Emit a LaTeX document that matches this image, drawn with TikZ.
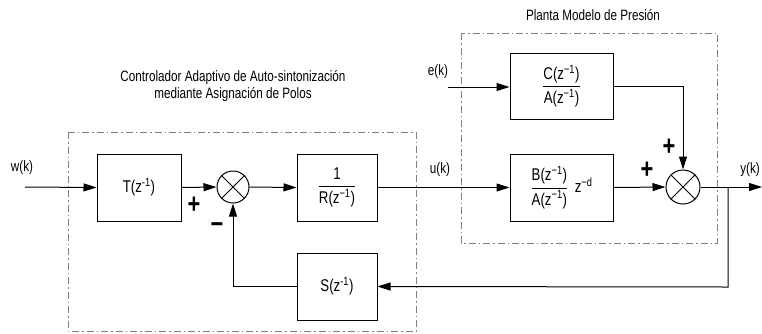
\documentclass[tikz,border=0pt]{standalone}
\usepackage{amsmath}
\usepackage{fontspec}
\setmainfont{Liberation Sans}[FakeStretch=0.78]
\usetikzlibrary{arrows.meta}
\tikzset{
  blk/.style={draw, line width=1pt, minimum width=80pt, minimum height=67pt, inner sep=0pt, font=\fontsize{17}{19}\selectfont},
  sumj/.style={draw, circle, line width=1pt, minimum size=32pt, inner sep=0pt},
  sig/.style={line width=1pt, -{Triangle[length=13pt,width=8pt]}},
  wire/.style={line width=1pt},
  grp/.style={draw=gray, line width=0.8pt, dash pattern=on 7pt off 3pt on 1.5pt off 3pt},
  lbl/.style={font=\fontsize{15}{16}\selectfont, inner sep=0pt},
  sgn/.style={font=\fontsize{28}{28}\selectfont\bfseries, inner sep=0pt}
}
\newcommand{\zi}{\textsuperscript{−1}}
\begin{document}
\begin{tikzpicture}[x=1pt,y=-1pt]
\useasboundingbox (0,0) rectangle (762,333);
\clip (0,0) rectangle (762,333);
% groups
\draw[grp] (68,132) rectangle (416,331);
\draw[grp] (461,33) rectangle (717,243);
\node[lbl, align=center] (ctitle) at (233,86) {Controlador Adaptivo de Auto-sintonización\\[1pt]mediante Asignación de Polos};
\node[lbl] (ptitle) at (593,15) {Planta Modelo de Presión};
% blocks
\node[blk, minimum width=84pt] (T) at (139,187.5) {T(z\textsuperscript{-1})};
\node[sumj] (s1) at (233,187) {};
\draw[wire] (s1.north west) -- (s1.south east) (s1.north east) -- (s1.south west);
\node[blk] (R) at (337,187.5) {$\dfrac{\text{1}}{\text{R(z\zi)}}$};
\node[blk] (S) at (337,286.5) {S(z\textsuperscript{-1})};
\node[blk, minimum width=103pt, minimum height=66pt] (CA) at (561.5,86) {$\dfrac{\text{C(z\zi)}}{\text{A(z\zi)}}$};
\node[blk, minimum width=103pt] (BA) at (561.5,187.5) {$\dfrac{\text{B(z\zi)}}{\text{A(z\zi)}}$\ \,z\textsuperscript{−d}};
\node[sumj, minimum size=34pt] (s2) at (683,187) {};
\draw[wire] (s2.north west) -- (s2.south east) (s2.north east) -- (s2.south west);
% coordinates
\coordinate (win) at (25,187);
\coordinate (ein) at (448,87);
\coordinate (yout) at (762,187);
\coordinate (br) at (728,187);
\coordinate (brd) at (728,287);
% signals
\draw[sig] (win) -- (T.west);
\draw[sig] (T.east) -- (s1.west);
\draw[sig] (s1.east) -- (R.west);
\draw[sig] (R.east) -- (BA.west);
\draw[sig] (ein) -- (ein -| CA.west);
\draw[sig] (BA.east) -- (s2.west);
\draw[sig] (CA.east) -| (s2.north);
\draw[sig] (s2.east) -- (yout);
\draw[sig] (br) -- (brd) -- (S.east);
\draw[sig] (S.west) -| (s1.south);
% labels
\node[lbl] (wk) at (22,168) {w(k)};
\node[lbl] (ek) at (438,72) {e(k)};
\node[lbl] (uk) at (440,170) {u(k)};
\node[lbl, anchor=east] (yk) at (760,170) {y(k)};
\node[sgn] (p1) at (194,205) {+};
\node[sgn] (m1) at (217,228) {−};
\node[sgn] (p2) at (669,147) {+};
\node[sgn] (p3) at (647,170) {+};
\end{tikzpicture}
\end{document}
